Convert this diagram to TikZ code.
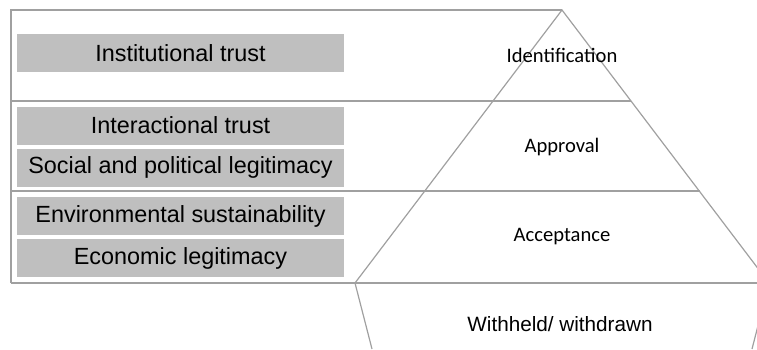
\documentclass[tikz,border=0pt]{standalone}
\usepackage{fontspec}
\setmainfont{Liberation Sans}
\newfontfamily\calib{Carlito}
\usetikzlibrary{positioning}
\definecolor{edgegray}{RGB}{160,160,160}
\definecolor{boxgray}{RGB}{191,191,191}

\begin{document}
\begin{tikzpicture}
        [
          x=1pt, y=-1pt,
          edge/.style={draw=edgegray, line width=1.2pt},
          factor/.style={fill=boxgray, minimum width=327pt, minimum height=38pt,
            inner sep=0pt, font=\fontsize{23.4}{26}\selectfont},
          level/.style={font=\calib\fontsize{20.6}{24}\selectfont, inner sep=0pt}
        ]
        \useasboundingbox (0,0) rectangle (757,349);
        \clip (0,0) rectangle (757,349);
        % pyramid corners
        \coordinate (apex) at (562,10);
        \coordinate (bl) at (355,283);
        \coordinate (br) at (769,283);
        \coordinate (wl) at (372,349);
        \coordinate (wr) at (752,349);
        % frame of the left column
        \draw [edge] (11,283) -- (11,10) -- (apex);
        \draw [edge] (11,101) -- (520,101);
        \draw [edge] (11,191) -- (457,191);
        \draw [edge] (11,283) -- (br);
        % pyramid
        \draw [edge] (bl) -- (apex) -- (br);
        \draw [edge] (493,101) -- (631,101);
        \draw [edge] (424,191) -- (700,191);
        \draw [edge] (bl) -- (wl);
        \draw [edge] (br) -- (wr);
        % factors
        \node [factor] (inst) at (180.5,53) {Institutional trust};
        \node [factor] (inter) at (180.5,125.5) {Interactional trust};
        \node [factor] (social) at (180.5,167.5) {Social and political legitimacy};
        \node [factor] (env) at (180.5,216) {Environmental sustainability};
        \node [factor] (econ) at (180.5,258) {Economic legitimacy};
        % levels
        \node [level] (ident) at (562,55) {Identification};
        \node [level] (appr) at (562,147) {Approval};
        \node [level] (accept) at (562,237) {Acceptance};
        \node [font=\fontsize{20.7}{24}\selectfont, inner sep=0pt] (withheld) at (560,324) {Withheld/ withdrawn};
      \end{tikzpicture}
\end{document}
